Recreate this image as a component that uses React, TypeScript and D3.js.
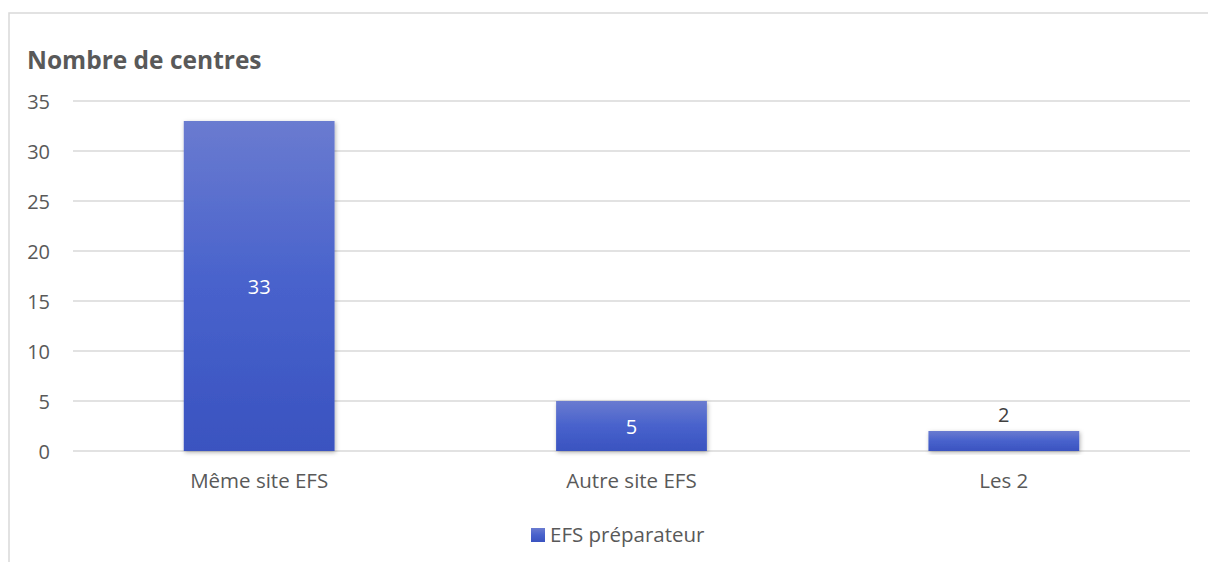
import { useEffect, useRef } from 'react';
import * as d3 from 'd3';

const categories = ['Même site EFS', 'Autre site EFS', 'Les 2'];
const values = [33, 5, 2];
const yTicks = [0, 5, 10, 15, 20, 25, 30, 35];
const seriesName = 'EFS préparateur';
const title = 'Nombre de centres';

const WIDTH = 1208;
const HEIGHT = 562;
const FONT = '"Open Sans", "Noto Sans", sans-serif';

export default function App() {
  const svgRef = useRef<SVGSVGElement>(null);

  useEffect(() => {
    if (!svgRef.current) return;
    const svg = d3.select(svgRef.current);
    svg.selectAll('*').remove();

    const margin = { top: 101, right: 18, bottom: 111, left: 73 };
    const innerWidth = WIDTH - margin.left - margin.right;
    const innerHeight = HEIGHT - margin.top - margin.bottom;

    const defs = svg.append('defs');
    const grad = defs
      .append('linearGradient')
      .attr('id', 'barGrad')
      .attr('x1', 0)
      .attr('y1', 0)
      .attr('x2', 0)
      .attr('y2', 1);
    grad.append('stop').attr('offset', '0%').attr('stop-color', '#6a7bd0');
    grad.append('stop').attr('offset', '50%').attr('stop-color', '#4862cc');
    grad.append('stop').attr('offset', '100%').attr('stop-color', '#3a53c0');

    const shadow = defs
      .append('filter')
      .attr('id', 'barShadow')
      .attr('x', '-20%')
      .attr('y', '-20%')
      .attr('width', '140%')
      .attr('height', '140%');
    shadow
      .append('feDropShadow')
      .attr('dx', 1)
      .attr('dy', 1.5)
      .attr('stdDeviation', 2)
      .attr('flood-color', '#000')
      .attr('flood-opacity', 0.3);

    // chart frame
    svg
      .append('rect')
      .attr('x', 9)
      .attr('y', 13)
      .attr('width', WIDTH + 20)
      .attr('height', HEIGHT + 20)
      .attr('fill', '#fff')
      .attr('stroke', '#d9d9d9')
      .attr('stroke-width', 1.5);

    // title
    svg
      .append('text')
      .attr('x', 27)
      .attr('y', 69)
      .attr('font-family', FONT)
      .attr('font-size', 24.5)
      .attr('font-weight', 700)
      .attr('fill', '#595959')
      .text(title);

    const g = svg.append('g').attr('transform', `translate(${margin.left},${margin.top})`);

    const x = d3.scaleBand().domain(categories).range([0, innerWidth]).paddingInner(0.595).paddingOuter(0.2975);
    const y = d3.scaleLinear().domain([0, 35]).range([innerHeight, 0]);

    // grid lines
    g.selectAll('.grid')
      .data(yTicks)
      .enter()
      .append('line')
      .attr('x1', 0)
      .attr('x2', innerWidth)
      .attr('y1', (d) => y(d))
      .attr('y2', (d) => y(d))
      .attr('stroke', '#d9d9d9')
      .attr('stroke-width', 1.5);

    // y labels
    g.selectAll('.y-label')
      .data(yTicks)
      .enter()
      .append('text')
      .attr('x', 50 - margin.left)
      .attr('y', (d) => y(d) + 8)
      .attr('text-anchor', 'end')
      .attr('font-family', FONT)
      .attr('font-size', 20)
      .attr('fill', '#595959')
      .text((d) => d);

    // bars
    g.selectAll('.bar')
      .data(values)
      .enter()
      .append('rect')
      .attr('x', (_, i) => x(categories[i]) ?? 0)
      .attr('y', (d) => y(d))
      .attr('width', x.bandwidth())
      .attr('height', (d) => y(0) - y(d))
      .attr('fill', 'url(#barGrad)')
      .attr('filter', 'url(#barShadow)');

    // value labels: inside when the bar is tall enough, above otherwise
    g.selectAll('.value')
      .data(values)
      .enter()
      .append('text')
      .attr('x', (_, i) => (x(categories[i]) ?? 0) + x.bandwidth() / 2)
      .attr('y', (d) => (d >= 5 ? (y(d) + y(0)) / 2 + 8 : y(d) - 9))
      .attr('text-anchor', 'middle')
      .attr('font-family', FONT)
      .attr('font-size', 20)
      .attr('fill', (d) => (d >= 5 ? '#ffffff' : '#404040'))
      .text((d) => d);

    // category labels
    g.selectAll('.x-label')
      .data(categories)
      .enter()
      .append('text')
      .attr('x', (d) => (x(d) ?? 0) + x.bandwidth() / 2)
      .attr('y', innerHeight + 37)
      .attr('text-anchor', 'middle')
      .attr('font-family', FONT)
      .attr('font-size', 20.5)
      .attr('fill', '#595959')
      .text((d) => d);

    // legend
    const legend = svg.append('g').attr('transform', 'translate(531,528)');
    legend.append('rect').attr('width', 14).attr('height', 14).attr('fill', 'url(#barGrad)');
    legend
      .append('text')
      .attr('x', 19)
      .attr('y', 14)
      .attr('font-family', FONT)
      .attr('font-size', 20.5)
      .attr('fill', '#595959')
      .text(seriesName);
  }, []);

  return (
    <svg
      ref={svgRef}
      width={WIDTH}
      height={HEIGHT}
      style={{ position: 'fixed', left: 0, top: 0, background: '#fff' }}
    />
  );
}
